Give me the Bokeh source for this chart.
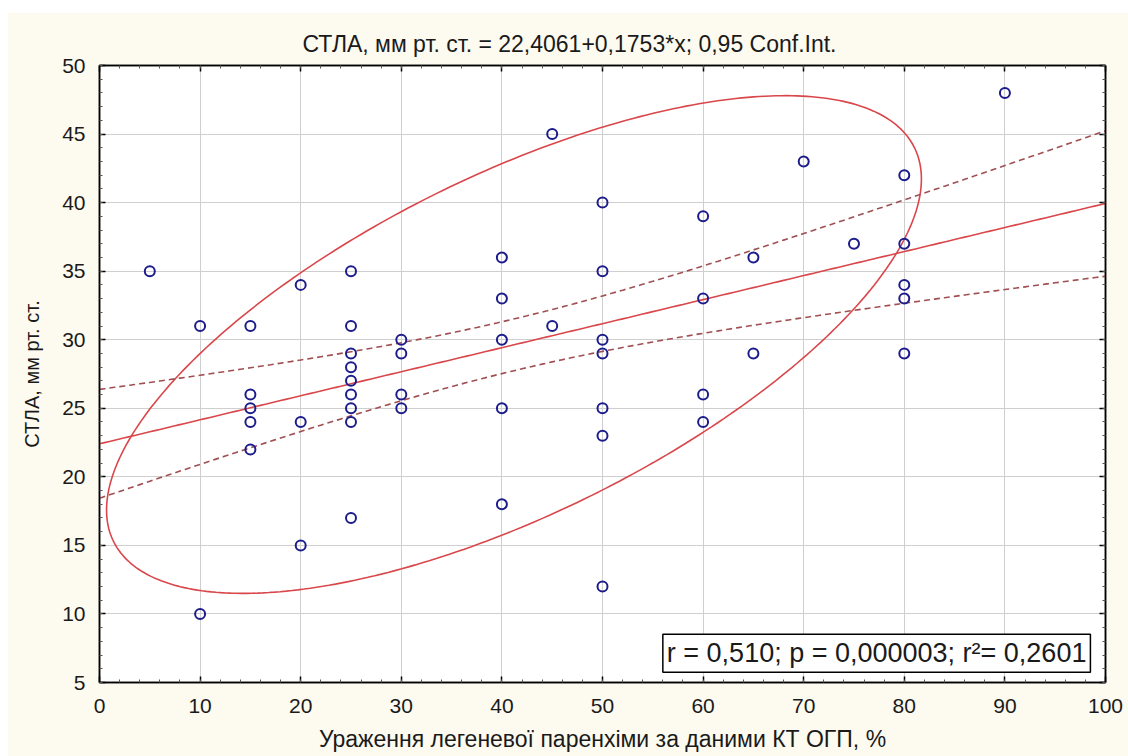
import numpy as np
from bokeh.plotting import figure
from bokeh.models import (Range1d, SingleIntervalTicker, LinearAxis, Label, Spacer,
                          CustomJSTickFormatter)
from bokeh.layouts import column, row
from bokeh.embed import file_html
from bokeh.resources import INLINE

# Lung parenchyma involvement on chest CT, % (x) and systolic pulmonary artery pressure, mmHg (y)
lesion_pct = [5,
              10, 10,
              15, 15, 15, 15, 15,
              20, 20, 20,
              25, 25, 25, 25, 25, 25, 25, 25, 25,
              30, 30, 30, 30,
              40, 40, 40, 40, 40,
              45, 45,
              50, 50, 50, 50, 50, 50, 50,
              60, 60, 60, 60,
              65, 65,
              70,
              75,
              80, 80, 80, 80, 80,
              90]
stla_mmhg = [35,
             31, 10,
             31, 26, 25, 24, 22,
             34, 24, 15,
             35, 31, 29, 28, 27, 26, 25, 24, 17,
             30, 29, 26, 25,
             36, 33, 30, 25, 18,
             45, 31,
             40, 35, 30, 29, 25, 23, 12,
             39, 33, 26, 24,
             36, 29,
             43,
             37,
             42, 37, 34, 33, 29,
             48]

# Fitted regression: y = 22.4061 + 0.1753 * x
INTERCEPT = 22.4061
SLOPE = 0.1753
T_CRIT = 2.0086          # Student t, 0.975 quantile, 50 df
TITLE_TEXT = "СТЛА, мм рт. ст. = 22,4061+0,1753*x; 0,95 Conf.Int."
STATS_TEXT = "r = 0,510; p = 0,000003; r²= 0,2601"

# 0.95 normal ellipse: centre, half extents along x and y, correlation
ELL_CENTER = (41.2, 29.65)
ELL_HALF = (40.5, 18.15)
ELL_RHO = 0.665

FONT = "Liberation Sans"
RED = "#d9474b"
DASH_RED = "#a04f52"
NAVY = "#1c1c8c"
CREAM = "#fdfaf0"
INK = "#1a1a1a"

x = np.asarray(lesion_pct, dtype=float)
y = np.asarray(stla_mmhg, dtype=float)
n = len(x)
xbar = x.mean()
sxx = ((x - xbar) ** 2).sum()
b1 = ((x - xbar) * (y - y.mean())).sum() / sxx
b0 = y.mean() - b1 * xbar
resid_sd = np.sqrt(((y - (b0 + b1 * x)) ** 2).sum() / (n - 2))

xs = np.linspace(0, 100, 201)
fit = INTERCEPT + SLOPE * xs
half_band = T_CRIT * resid_sd * np.sqrt(1.0 / n + (xs - xbar) ** 2 / sxx)

t = np.linspace(0, 2 * np.pi, 361)
zx = np.cos(t)
zy = ELL_RHO * np.cos(t) + np.sqrt(1 - ELL_RHO ** 2) * np.sin(t)
ell_x = ELL_CENTER[0] + ELL_HALF[0] * zx
ell_y = ELL_CENTER[1] + ELL_HALF[1] * zy

p = figure(width=1121, height=744, output_backend="svg", toolbar_location=None,
           x_range=Range1d(0, 100), y_range=Range1d(5, 50),
           min_border_left=92, min_border_right=23, min_border_top=53, min_border_bottom=74,
           x_axis_label="Ураження легеневої паренхіми за даними КТ ОГП, %",
           y_axis_label="СТЛА, мм рт. ст.")
p.border_fill_color = CREAM
p.background_fill_color = "white"
p.outline_line_color = "black"
p.outline_line_width = 1.5

# title starts left of the frame centre: it is centred over the whole graph window
p.title.text = TITLE_TEXT
p.title.align = "left"
p.title.offset = 203
p.title.standoff = 18
p.title.text_font = FONT
p.title.text_font_size = "23px"
p.title.text_font_style = "normal"
p.title.text_color = INK

xt = SingleIntervalTicker(interval=10, num_minor_ticks=5)
yt = SingleIntervalTicker(interval=5, num_minor_ticks=5)
p.xaxis.ticker = xt
p.yaxis.ticker = yt
p.xgrid.ticker = xt
p.ygrid.ticker = yt


def style_axis(ax):
    ax.axis_line_color = "black"
    ax.axis_line_width = 1.5
    ax.major_tick_in = 6
    ax.major_tick_out = 0
    ax.minor_tick_in = 3
    ax.minor_tick_out = 0
    ax.major_tick_line_color = "black"
    ax.minor_tick_line_color = "#555555"
    ax.major_tick_line_width = 1.5
    ax.major_label_text_font = FONT
    ax.major_label_text_color = INK
    ax.major_label_text_font_size = "21px"
    ax.axis_label_text_font = FONT
    ax.axis_label_text_font_style = "normal"
    ax.axis_label_text_color = INK


for ax in p.xaxis:
    style_axis(ax)
    ax.major_label_standoff = 16
    ax.axis_label_standoff = 10
    ax.axis_label_text_font_size = "23px"
for ax in p.yaxis:
    style_axis(ax)
    ax.major_label_standoff = 14
    ax.axis_label_standoff = 16
    ax.axis_label_text_font_size = "20px"

# tick marks on the top and right edges of the frame, without labels
blank = CustomJSTickFormatter(code="return '';")
top_axis = LinearAxis(ticker=xt, formatter=blank, major_label_standoff=0)
style_axis(top_axis)
p.add_layout(top_axis, "above")
right_axis = LinearAxis(ticker=yt, formatter=blank, major_label_standoff=0)
style_axis(right_axis)
p.add_layout(right_axis, "right")

p.grid.grid_line_color = "#cfcfcf"
p.grid.grid_line_width = 1

p.line(ell_x, ell_y, line_color=RED, line_width=1.6)
p.line(xs, fit, line_color=RED, line_width=1.6)
p.line(xs, fit + half_band, line_color=DASH_RED, line_width=1.6, line_dash="6 4")
p.line(xs, fit - half_band, line_color=DASH_RED, line_width=1.6, line_dash="6 4")

p.scatter(x, y, marker="circle", size=10, fill_color=None,
          line_color=NAVY, line_width=2)

stats = Label(x=98.5, y=5.75, text=STATS_TEXT, anchor="bottom_right",
              text_font=FONT, text_font_size="27px", text_color=INK,
              border_line_color="black", border_line_width=1.5,
              background_fill_color="white", padding=4)
p.add_layout(stats)

page = column(Spacer(height=12), row(Spacer(width=7), p))
open("out.html", "w").write(file_html(page, INLINE))
